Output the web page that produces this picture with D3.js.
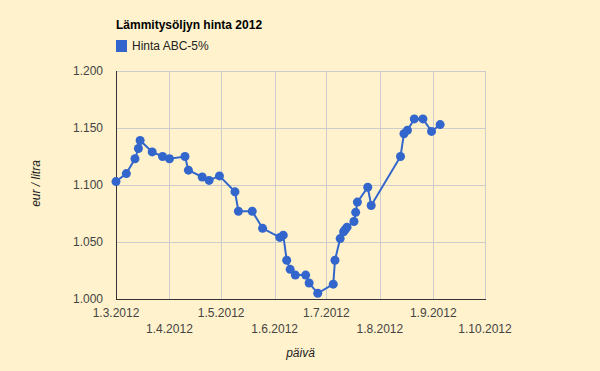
<!DOCTYPE html>
<html>
<head>
<meta charset="utf-8">
<script src="https://cdn.jsdelivr.net/npm/d3@7"></script>
<style>
  body { margin: 0; background: #fff2cc; }
  svg { display: block; font-family: "Liberation Sans", Arial, sans-serif; }
</style>
</head>
<body>
<div id="chart"></div>
<script>
const title = "Lämmitysöljyn hinta 2012";
const seriesName = "Hinta ABC-5%";
const xTitle = "päivä";
const yTitle = "eur / litra";

const dates = [
  "2012-03-01", "2012-03-07", "2012-03-12", "2012-03-14", "2012-03-15",
  "2012-03-22", "2012-03-28", "2012-04-01", "2012-04-10", "2012-04-12",
  "2012-04-20", "2012-04-24", "2012-04-30", "2012-05-09", "2012-05-11",
  "2012-05-19", "2012-05-25", "2012-06-04", "2012-06-06", "2012-06-08",
  "2012-06-10", "2012-06-13", "2012-06-19", "2012-06-21", "2012-06-26",
  "2012-07-05", "2012-07-06", "2012-07-09", "2012-07-11", "2012-07-12",
  "2012-07-13", "2012-07-17", "2012-07-18", "2012-07-19", "2012-07-25",
  "2012-07-27", "2012-08-13", "2012-08-15", "2012-08-17", "2012-08-21",
  "2012-08-26", "2012-08-31", "2012-09-05"
];
const prices = [
  1.103, 1.110, 1.123, 1.132, 1.139,
  1.129, 1.125, 1.123, 1.125, 1.113,
  1.107, 1.104, 1.108, 1.094, 1.077,
  1.077, 1.062, 1.054, 1.056, 1.034,
  1.026, 1.021, 1.021, 1.014, 1.005,
  1.013, 1.034, 1.053, 1.059, 1.061,
  1.063, 1.068, 1.076, 1.085, 1.098,
  1.082, 1.125, 1.145, 1.148, 1.158,
  1.158, 1.147, 1.153
];
const xTicks = ["2012-03-01", "2012-04-01", "2012-05-01", "2012-06-01", "2012-07-01",
  "2012-08-01", "2012-09-01", "2012-10-01"];
const yTicks = [1.0, 1.05, 1.1, 1.15, 1.2];

const parse = d3.timeParse("%Y-%m-%d");
const data = dates.map((d, i) => ({ date: parse(d), value: prices[i] }));
const tickDates = xTicks.map(parse);

const W = 600, H = 371;
const plot = { left: 116, right: 485, top: 71, bottom: 299 };

const svg = d3.select("#chart").append("svg")
  .attr("width", W)
  .attr("height", H);

svg.append("rect").attr("width", W).attr("height", H).attr("fill", "#fff2cc");

const x = d3.scaleTime()
  .domain([tickDates[0], tickDates[tickDates.length - 1]])
  .range([plot.left, plot.right]);
const y = d3.scaleLinear().domain([1.0, 1.2]).range([plot.bottom, plot.top]);

// gridlines
svg.append("g").selectAll("line")
  .data(yTicks.slice(1))
  .join("line")
  .attr("x1", plot.left).attr("x2", plot.right)
  .attr("y1", d => Math.round(y(d)) + 0.5).attr("y2", d => Math.round(y(d)) + 0.5)
  .attr("stroke", "#cccccc");

svg.append("g").selectAll("line")
  .data(tickDates.slice(1))
  .join("line")
  .attr("x1", d => Math.round(x(d)) + 0.5).attr("x2", d => Math.round(x(d)) + 0.5)
  .attr("y1", plot.top).attr("y2", plot.bottom)
  .attr("stroke", "#cccccc");

// axis lines
svg.append("line")
  .attr("x1", plot.left + 0.5).attr("x2", plot.left + 0.5)
  .attr("y1", plot.top).attr("y2", plot.bottom + 1)
  .attr("stroke", "#333333");
svg.append("line")
  .attr("x1", plot.left).attr("x2", plot.right + 1)
  .attr("y1", plot.bottom + 0.5).attr("y2", plot.bottom + 0.5)
  .attr("stroke", "#333333");

// y tick labels
svg.append("g").selectAll("text")
  .data(yTicks)
  .join("text")
  .attr("x", 103)
  .attr("y", d => y(d) + 4)
  .attr("text-anchor", "end")
  .attr("font-size", 12)
  .attr("fill", "#444444")
  .text(d => d3.format(".3f")(d));

// x tick labels, alternating rows
svg.append("g").selectAll("text")
  .data(tickDates)
  .join("text")
  .attr("x", d => x(d))
  .attr("y", (d, i) => i % 2 === 0 ? 317 : 333)
  .attr("text-anchor", "middle")
  .attr("font-size", 12)
  .attr("fill", "#444444")
  .text(d => d3.timeFormat("%-d.%-m.%Y")(d));

// line + points
const line = d3.line().x(d => x(d.date)).y(d => y(d.value));
svg.append("path")
  .datum(data)
  .attr("d", line)
  .attr("fill", "none")
  .attr("stroke", "#3366cc")
  .attr("stroke-width", 2);

svg.append("g").selectAll("circle")
  .data(data)
  .join("circle")
  .attr("cx", d => x(d.date))
  .attr("cy", d => y(d.value))
  .attr("r", 4.5)
  .attr("fill", "#3366cc");

// title + legend
svg.append("text")
  .attr("x", 116).attr("y", 29)
  .attr("font-size", 12)
  .attr("font-weight", "bold")
  .attr("fill", "#000000")
  .text(title);

svg.append("rect")
  .attr("x", 116).attr("y", 40)
  .attr("width", 11).attr("height", 12)
  .attr("fill", "#3366cc");
svg.append("text")
  .attr("x", 132).attr("y", 50)
  .attr("font-size", 12)
  .attr("fill", "#222222")
  .text(seriesName);

// axis titles
svg.append("text")
  .attr("x", (plot.left + plot.right) / 2).attr("y", 357)
  .attr("text-anchor", "middle")
  .attr("font-size", 12)
  .attr("font-style", "italic")
  .attr("fill", "#222222")
  .text(xTitle);

svg.append("text")
  .attr("transform", `translate(39.5,${(plot.top + plot.bottom) / 2 - 1.5}) rotate(-90)`)
  .attr("text-anchor", "middle")
  .attr("font-size", 12)
  .attr("font-style", "italic")
  .attr("fill", "#222222")
  .text(yTitle);
</script>
</body>
</html>
